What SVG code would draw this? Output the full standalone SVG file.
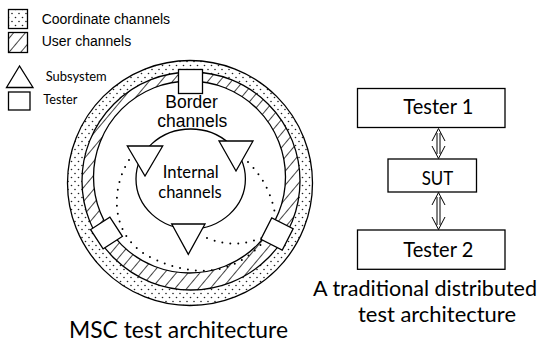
<svg xmlns="http://www.w3.org/2000/svg" width="543" height="342" viewBox="0 0 543 342">
<defs>
<pattern id="dots" width="7" height="8" patternUnits="userSpaceOnUse">
<rect width="7" height="8" fill="#fff"/>
<circle cx="1.5" cy="1.5" r="0.8" fill="#222"/>
<circle cx="5" cy="5.5" r="0.8" fill="#222"/>
</pattern>
<pattern id="hatch" width="9" height="9" patternUnits="userSpaceOnUse" patternTransform="rotate(40)">
<rect width="9" height="9" fill="#fff"/>
<line x1="4.5" y1="0" x2="4.5" y2="9" stroke="#444" stroke-width="1"/>
</pattern>
<style>
.ln{stroke:#000;stroke-width:1.3}
.w{fill:#fff}
.ar{font-family:"Liberation Sans",Arial,sans-serif;fill:#000}
.ca{font-family:Lato,"Open Sans",sans-serif;fill:#000}
.dt{fill:none;stroke:#000;stroke-width:2;stroke-linecap:round;stroke-dasharray:0 8}
.sh{fill:none;stroke:#000;stroke-width:1}
</style>
</defs>
<rect width="543" height="342" fill="#fff"/>

<g id="legend">
<rect x="8.5" y="9.5" width="19" height="19" fill="url(#dots)" class="ln"/>
<text class="ar" x="41.7" y="24" font-size="14">Coordinate channels</text>
<rect x="8.5" y="32.5" width="19" height="20" fill="url(#hatch)" class="ln"/>
<text class="ar" x="41.7" y="46" font-size="14">User channels</text>
<polygon points="19.5,66 6.5,87.5 33,87.5" class="w ln"/>
<text class="ca" x="45.7" y="81" font-size="14" textLength="61" lengthAdjust="spacingAndGlyphs">Subsystem</text>
<rect x="8.5" y="92" width="21.5" height="18" class="w ln"/>
<text class="ca" x="43.3" y="104.3" font-size="14" textLength="34" lengthAdjust="spacingAndGlyphs">Tester</text>
</g>

<g id="msc-rings">
<circle cx="190" cy="183" r="122.5" fill="url(#dots)" class="ln"/>
<circle cx="191" cy="181" r="109" fill="url(#hatch)" class="ln"/>
<circle cx="189.5" cy="177" r="96" class="w ln"/>
<text class="ar" x="191.5" y="108.3" font-size="17.5" text-anchor="middle">Border</text>
<text class="ar" x="192.3" y="127.3" font-size="17.5" text-anchor="middle">channels</text>
</g>

<g id="internal">
<ellipse cx="190.7" cy="179" rx="54.7" ry="50" fill="none" class="ln"/>
<text class="ca" x="162.7" y="178.3" font-size="17.5" textLength="56" lengthAdjust="spacingAndGlyphs">Internal</text>
<text class="ca" x="158.3" y="198.3" font-size="17.5" textLength="63.4" lengthAdjust="spacingAndGlyphs">channels</text>
</g>

<g id="dotted-links">
<path class="dt" d="M129,160 C 110,190 110,238 152,258 S 234,276 264,241"/>
<path class="dt" d="M207,238 Q 236,250 266,236"/>
<path class="dt" d="M248,162 Q 270,184 275,214"/>
</g>

<g id="subsystem-left"><polygon points="127.3,146 162.7,146 145,176" class="w ln"/></g>
<g id="subsystem-right"><polygon points="219,141 253,141 236,171" class="w ln"/></g>
<g id="subsystem-bottom"><polygon points="171.7,224 205,224 188.3,254.3" class="w ln"/></g>

<g id="tester-top"><rect x="178.5" y="69.5" width="24" height="24" class="w ln"/></g>
<g id="tester-left"><rect x="-11.5" y="-11.5" width="23" height="23" class="w ln" transform="translate(106.5,233) rotate(-33)"/></g>
<g id="tester-right"><rect x="-12" y="-12" width="24" height="24" class="w ln" transform="translate(277,234) rotate(27)"/></g>

<text class="ca" x="69" y="338" font-size="23.5" textLength="219" lengthAdjust="spacingAndGlyphs">MSC test architecture</text>

<g id="tester1">
<rect x="357.5" y="88.5" width="147.5" height="39" fill="#fff" class="ln"/>
<text class="ca" x="403.3" y="114.3" font-size="20.5" textLength="70" lengthAdjust="spacingAndGlyphs">Tester 1</text>
</g>
<g id="sut">
<rect x="388" y="159" width="88.5" height="33" fill="#fff" class="ln"/>
<text class="ca" x="421.7" y="185" font-size="20" textLength="31.6" lengthAdjust="spacingAndGlyphs">SUT</text>
</g>
<g id="tester2">
<rect x="357.5" y="230" width="147.5" height="39.3" fill="#fff" class="ln"/>
<text class="ca" x="403.3" y="256.7" font-size="20.5" textLength="70" lengthAdjust="spacingAndGlyphs">Tester 2</text>
</g>

<g id="connectors">
<path class="sh" d="M432,141 L438.5,128.5 L445,141 M432,146 L438.5,158.5 L445,146 M437,133 V154 M440,133 V154"/>
<path class="sh" d="M432,205 L438.5,192.5 L445,205 M432,217 L438.5,229.5 L445,217 M437,197 V225 M440,197 V225"/>
</g>

<text class="ca" x="313" y="296" font-size="21" textLength="224" lengthAdjust="spacingAndGlyphs">A traditional distributed</text>
<text class="ca" x="358" y="321.5" font-size="21.5" textLength="158" lengthAdjust="spacingAndGlyphs">test architecture</text>
</svg>
